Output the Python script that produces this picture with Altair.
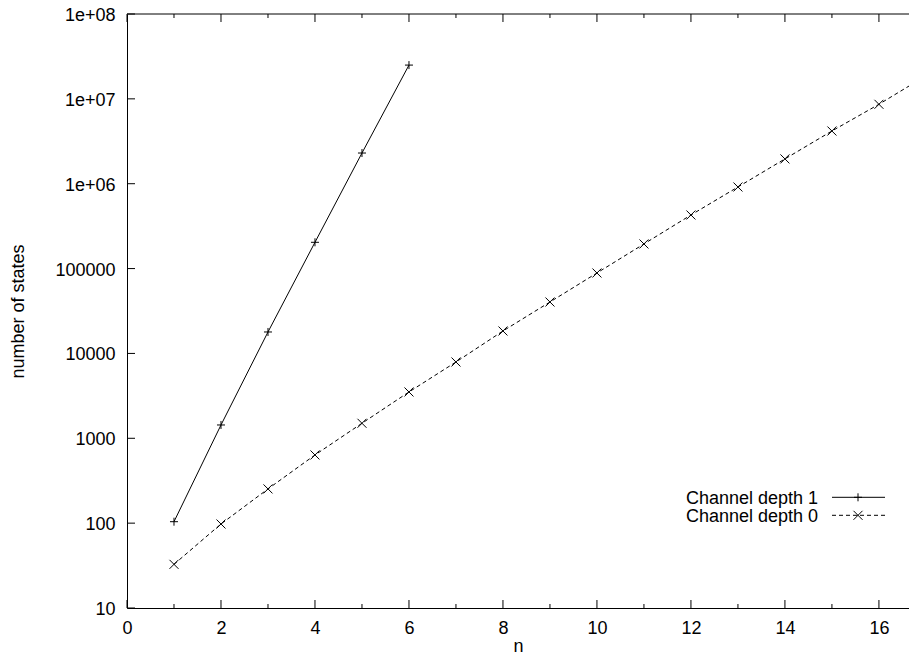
import altair as alt
import pandas as pd

# ---- data ----
series_names = ["Channel depth 1", "Channel depth 0"]
n_depth1 = [1, 2, 3, 4, 5, 6]
states_depth1 = [104, 1435, 17900, 204000, 2300000, 25000000]
n_depth0 = [1, 2, 3, 4, 5, 6, 7, 8, 9, 10, 11, 12, 13, 14, 15, 16, 17]
states_depth0 = [32.7, 97.7, 253, 636, 1503, 3514, 7925, 18380, 40370, 88700,
                 195000, 428000, 915000, 1960000, 4180000, 8630000, 18700000]

x_major_ticks = [0, 2, 4, 6, 8, 10, 12, 14, 16]
x_minor_ticks = [1, 3, 5, 7, 9, 11, 13, 15]
y_tick_values = [10, 100, 1000, 10000, 100000, 1000000, 10000000, 100000000]
y_tick_labels = ["10", "100", "1000", "10000", "100000", "1e+06", "1e+07", "1e+08"]

# ---- layout / style ----
W, H = 782, 594
X_MAX = 16.64
FONT = "Liberation Sans"
FS = 18
PLUS = "M-1,0L1,0M0,-1L0,1"
CROSS = "M-1,-1L1,1M-1,1L1,-1"
DASH = [4, 3]

df1 = pd.DataFrame({"n": n_depth1, "states": states_depth1})
df0 = pd.DataFrame({"n": n_depth0, "states": states_depth0})
dx_major = pd.DataFrame({"n": x_major_ticks})
dx_minor = pd.DataFrame({"n": x_minor_ticks})
dy_ticks = pd.DataFrame({"states": y_tick_values})
one_row = pd.DataFrame({"k": [0]})

x_scale = alt.Scale(domain=[0, X_MAX], nice=False, zero=False)
y_scale = alt.Scale(type="log", domain=[10, 100000000], nice=False)

label_expr = "''"
for v, l in zip(y_tick_values, y_tick_labels):
    label_expr = f"datum.value == {v} ? '{l}' : ({label_expr})"

x_axis = alt.Axis(values=x_major_ticks, format="d", title="n", ticks=False, grid=False,
                  domainColor="black", domainWidth=1, labelPadding=11, labelFlush=False,
                  labelFontSize=FS, labelFont=FONT, labelColor="black",
                  titleFontSize=FS, titleFont=FONT, titleFontWeight="normal", titleColor="black",
                  titleY=43, titleBaseline="alphabetic")
y_axis = alt.Axis(values=y_tick_values, labelExpr=label_expr, title="number of states",
                  ticks=False, grid=False, domainColor="black", domainWidth=1, labelPadding=12,
                  labelFlush=False, labelOffset=1.5,
                  labelFontSize=FS, labelFont=FONT, labelColor="black",
                  titleFontSize=FS, titleFont=FONT, titleFontWeight="normal", titleColor="black",
                  titleX=-104, titleY=H / 2, titleBaseline="alphabetic", titleAngle=-90,
                  titleAlign="center")

X = alt.X("n:Q", scale=x_scale, axis=x_axis, title="n")
Y = alt.Y("states:Q", scale=y_scale, axis=y_axis, title="number of states")

line0 = alt.Chart(df0).mark_line(color="black", strokeWidth=1, strokeDash=DASH, clip=True).encode(x=X, y=Y)
pts0 = alt.Chart(df0).mark_point(shape=CROSS, filled=False, size=81, color="black",
                                 strokeWidth=1, opacity=1, clip=True).encode(x=X, y=Y)
line1 = alt.Chart(df1).mark_line(color="black", strokeWidth=1, clip=True).encode(x=X, y=Y)
pts1 = alt.Chart(df1).mark_point(shape=PLUS, filled=False, size=64, color="black",
                                 strokeWidth=1, opacity=1, clip=True).encode(x=X, y=Y)

# inward ticks (gnuplot style) and top border
def xticks(df, y0, y1):
    return alt.Chart(df).mark_rule(color="black", strokeWidth=1).encode(
        x=X, y=alt.value(y0), y2=alt.value(y1))

tick_layers = [
    xticks(dx_major, H, H - 8), xticks(dx_minor, H, H - 4),
    xticks(dx_major, 0, 8), xticks(dx_minor, 0, 4),
    alt.Chart(dy_ticks).mark_rule(color="black", strokeWidth=1).encode(
        y=Y, x=alt.value(0), x2=alt.value(8)),
    alt.Chart(one_row).mark_rule(color="black", strokeWidth=1).encode(
        x=alt.value(0), x2=alt.value(W), y=alt.value(0)),
]

# legend (gnuplot key: text on the left, sample on the right)
def legend_row(name, ybase, dash, shape, size):
    text = alt.Chart(one_row).mark_text(align="right", baseline="alphabetic", font=FONT,
                                        fontSize=FS, color="black").encode(
        x=alt.value(691), y=alt.value(ybase), text=alt.value(name))
    rule_kw = {"strokeDash": dash} if dash else {}
    sample = alt.Chart(one_row).mark_rule(color="black", strokeWidth=1, **rule_kw).encode(
        x=alt.value(705), x2=alt.value(758), y=alt.value(ybase - 7))
    mk = alt.Chart(one_row).mark_point(shape=shape, filled=False, size=size, color="black",
                                       strokeWidth=1, opacity=1).encode(
        x=alt.value(731), y=alt.value(ybase - 7))
    return [text, sample, mk]

legend_layers = legend_row(series_names[0], 490.3, None, PLUS, 64) + \
    legend_row(series_names[1], 508.3, DASH, CROSS, 81)

chart = alt.layer(line0, pts0, line1, pts1, *tick_layers, *legend_layers).properties(
    width=W, height=H,
    padding={"left": 119, "top": 6, "right": 0, "bottom": 44},
    autosize=alt.AutoSizeParams(type="none"),
    background="white",
).configure_view(stroke="transparent")

chart.save("out.html", embed_options={"renderer": "svg", "actions": False})
